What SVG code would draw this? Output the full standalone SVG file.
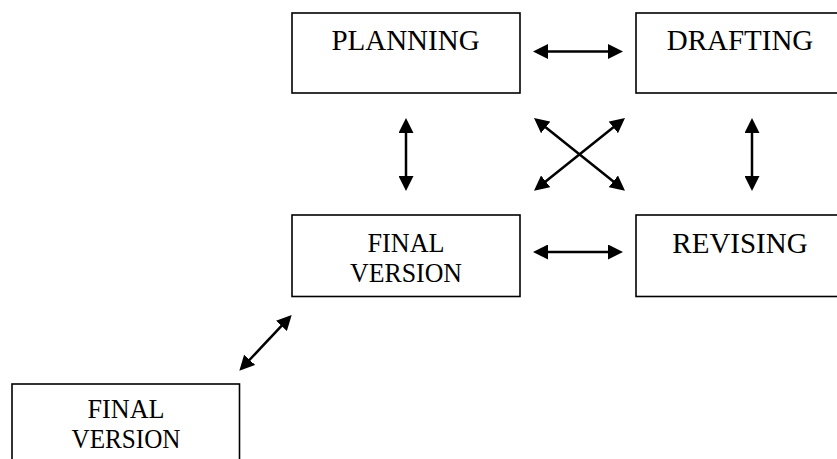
<svg xmlns="http://www.w3.org/2000/svg" width="837" height="459" viewBox="0 0 837 459">
<style>
.box{fill:#fff;stroke:#000;stroke-width:1.6}
.lbl{font-family:"Liberation Serif","Times New Roman",serif;font-size:29px;fill:#000;text-anchor:middle}
.lbl2{font-family:"Liberation Serif","Times New Roman",serif;font-size:27px;fill:#000;text-anchor:middle}
.con{stroke:#000;stroke-width:2.5;fill:none;marker-start:url(#ah);marker-end:url(#ah)}
</style>
<defs>
<marker id="ah" markerUnits="userSpaceOnUse" viewBox="0 0 15 15" markerWidth="15" markerHeight="15" refX="7" refY="7.5" orient="auto-start-reverse">
<path d="M0,0 L15,7.5 L0,15 Z" fill="#000"/>
</marker>
</defs>
<rect width="837" height="459" fill="#fff"/>
<g id="planning">
<rect class="box" x="292" y="13" width="228" height="80"/>
<text class="lbl" x="405.5" y="50">PLANNING</text>
</g>
<g id="drafting">
<rect class="box" x="636" y="13" width="215" height="80"/>
<text class="lbl" x="740" y="50">DRAFTING</text>
</g>
<g id="final-version">
<rect class="box" x="292" y="215" width="228" height="81.5"/>
<text class="lbl2" x="406" y="251.5" textLength="77" lengthAdjust="spacingAndGlyphs">FINAL</text>
<text class="lbl2" x="406" y="281.5" textLength="112" lengthAdjust="spacingAndGlyphs">VERSION</text>
</g>
<g id="revising">
<rect class="box" x="636" y="215" width="215" height="81.5"/>
<text class="lbl" x="740" y="252.5">REVISING</text>
</g>
<g id="final-version-2">
<rect class="box" x="12" y="384" width="227.5" height="90"/>
<text class="lbl2" x="126" y="418" textLength="77" lengthAdjust="spacingAndGlyphs">FINAL</text>
<text class="lbl2" x="126" y="448" textLength="109" lengthAdjust="spacingAndGlyphs">VERSION</text>
</g>
<g id="connectors">
<line class="con" x1="541" y1="51.5" x2="615" y2="51.5"/>
<line class="con" x1="406" y1="126" x2="406" y2="183"/>
<line class="con" x1="752" y1="126" x2="752" y2="183"/>
<line class="con" x1="540.25" y1="123" x2="618.75" y2="185.7"/>
<line class="con" x1="618.75" y1="123" x2="540.25" y2="185.7"/>
<line class="con" x1="541" y1="252" x2="615" y2="252"/>
<line class="con" x1="286.2" y1="320.8" x2="244.8" y2="364.9"/>
</g>
</svg>
